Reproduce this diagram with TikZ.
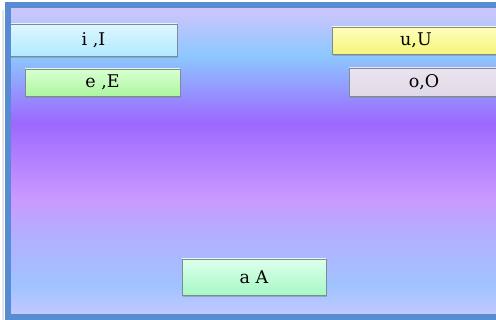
\documentclass[tikz,border=0pt]{standalone}
\usepackage{fontspec}
\setmainfont{DejaVu Serif}
\usetikzlibrary{shadows}

\definecolor{frameblue}{RGB}{88,140,210}
\definecolor{boxgray}{RGB}{125,140,148}
\definecolor{wlav}{RGB}{192,200,255}
\definecolor{wblue}{RGB}{160,196,255}
\definecolor{wmauve}{RGB}{176,178,255}
\definecolor{wpink}{RGB}{202,152,255}
\definecolor{wpurple}{RGB}{156,104,255}
\definecolor{wsky}{RGB}{140,200,255}
\definecolor{wtop}{RGB}{198,198,252}

% background wash, inner 25bp..75bp covers the panel
\pgfdeclareverticalshading{wash}{100bp}{color(0bp)=(wlav); color(25.6bp)=(wlav);
  color(29.7bp)=(wblue); color(37.1bp)=(wmauve); color(44.4bp)=(wpink);
  color(56.4bp)=(wpurple); color(67.3bp)=(wsky); color(73.9bp)=(wtop);
  color(100bp)=(wtop)}

\tikzstyle{vowel}=[rectangle,draw=boxgray,thin,inner sep=3pt,align=center,
  font=\fontsize{17.5}{21}\selectfont,
  drop shadow={shadow xshift=1pt,shadow yshift=-2pt,opacity=0.45}]

\begin{document}
\begin{tikzpicture}[x=1pt,y=-1pt]
    \clip (0,0) rectangle (496,320);
    \fill[white] (0,0) rectangle (496,320);
    \shade[shading=wash] (8,8) rectangle (500,316);

    \node[vowel,top color={rgb,255:red,222;green,247;blue,255},bottom color={rgb,255:red,176;green,234;blue,255},
      minimum width=167pt,minimum height=32pt] (ii) at (93.5,40) {i ,I};
    \node[vowel,top color={rgb,255:red,218;green,255;blue,210},bottom color={rgb,255:red,172;green,246;blue,160},
      minimum width=155pt,minimum height=27pt] (ee) at (102.5,82.5) {e ,E};
    \node[vowel,top color={rgb,255:red,255;green,255;blue,190},bottom color={rgb,255:red,244;green,244;blue,120},
      minimum width=168pt,minimum height=27pt] (uu) at (416,40.5) {u,U};
    \node[vowel,top color={rgb,255:red,234;green,228;blue,240},bottom color={rgb,255:red,224;green,218;blue,232},
      minimum width=150pt,minimum height=28pt] (oo) at (424,82) {o,O};
    \node[vowel,top color={rgb,255:red,222;green,255;blue,236},bottom color={rgb,255:red,166;green,248;blue,198},
      minimum width=144pt,minimum height=36pt] (aa) at (254,277) {a A};

    % frame around the panel
    \draw[black!10,line width=2pt] (3,10) -- (3,320);
    \draw[frameblue,line width=6pt] (7.5,5.5) rectangle (520,317.5);
  \end{tikzpicture}
\end{document}
